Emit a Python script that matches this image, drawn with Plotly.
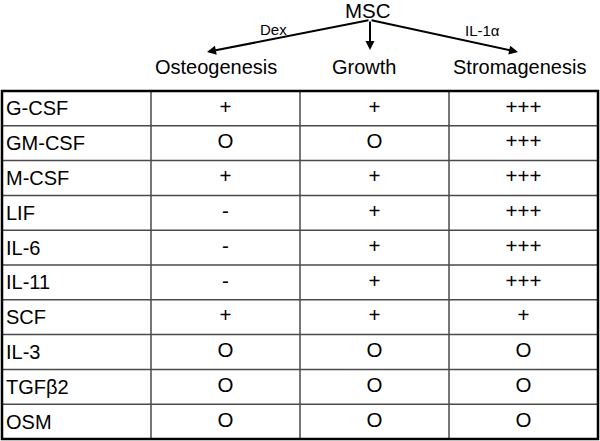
import plotly.graph_objects as go

# ---- data ----
source = "MSC"
treatments = ["Dex", "", "IL-1α"]
columns = ["Osteogenesis", "Growth", "Stromagenesis"]
factors = ["G-CSF", "GM-CSF", "M-CSF", "LIF", "IL-6", "IL-11", "SCF", "IL-3", "TGFβ2", "OSM"]
osteogenesis = ["+", "O", "+", "-", "-", "-", "+", "O", "O", "O"]
growth = ["+", "O", "+", "+", "+", "+", "+", "O", "O", "O"]
stromagenesis = ["+++", "+++", "+++", "+++", "+++", "+++", "+", "O", "O", "O"]

W, H = 600, 441
# table geometry in pixels (used only to set axis ranges)
TX0, TX1 = 2, 598
TY0, TY1 = 91, 439
ncol = 1 + len(columns)
nrow = len(factors)
px_x = (TX1 - TX0) / ncol
px_y = (TY1 - TY0) / nrow

def X(px):
    return -0.5 + (px - TX0) / px_x

def Y(py):
    return -0.5 + (py - TY0) / px_y

fig = go.Figure()
FONT = "Liberation Sans, Arial, Helvetica, sans-serif"

# cell text
value_cols = [osteogenesis, growth, stromagenesis]
for j, vals in enumerate(value_cols):
    fig.add_trace(go.Scatter(
        x=[j + 1] * nrow, y=list(range(nrow)), mode="text", text=vals,
        textposition="middle center",
        textfont=dict(family=FONT, size=20.5, color="black"),
        hoverinfo="skip", showlegend=False))

for i, f in enumerate(factors):
    fig.add_annotation(x=X(4), y=i, xref="x", yref="y", text=f, showarrow=False,
                       xanchor="left", yanchor="middle",
                       font=dict(family=FONT, size=20, color="black"))

# grid lines
for i in range(1, nrow):
    fig.add_shape(type="line", x0=-0.5, x1=ncol - 0.5, y0=i - 0.5, y1=i - 0.5,
                  xref="x", yref="y", line=dict(color="#4a4a4a", width=1.5))
for j in range(1, ncol):
    fig.add_shape(type="line", x0=j - 0.5, x1=j - 0.5, y0=-0.5, y1=nrow - 0.5,
                  xref="x", yref="y", line=dict(color="#4a4a4a", width=1.5))
fig.add_shape(type="rect", x0=-0.5, x1=ncol - 0.5, y0=-0.5, y1=nrow - 0.5,
              xref="x", yref="y", line=dict(color="black", width=2.5))

# header
fig.add_annotation(x=X(368), y=Y(10), text=source, showarrow=False,
                   font=dict(family=FONT, size=20.5, color="black"))
apex = (X(370), Y(20))
tips = [(X(207), Y(52)), (X(370), Y(50)), (X(518), Y(52))]
for tx, ty in tips:
    fig.add_annotation(x=tx, y=ty, ax=apex[0], ay=apex[1], xref="x", yref="y",
                       axref="x", ayref="y", text="", showarrow=True,
                       arrowhead=2, arrowsize=0.9, arrowwidth=2, arrowcolor="black")
label_px = [(273, 29), None, (482, 30)]
for t, pos in zip(treatments, label_px):
    if t and pos:
        fig.add_annotation(x=X(pos[0]), y=Y(pos[1]), text=t, showarrow=False,
                           font=dict(family=FONT, size=15, color="black"))
col_px = [216, 364, 519]
for c, cx in zip(columns, col_px):
    fig.add_annotation(x=X(cx), y=Y(67), text=c, showarrow=False,
                       font=dict(family=FONT, size=20, color="black"))

fig.update_xaxes(range=[X(0), X(W)], visible=False, fixedrange=True)
fig.update_yaxes(range=[Y(H), Y(0)], visible=False, fixedrange=True)
fig.update_layout(width=W, height=H, margin=dict(l=0, r=0, t=0, b=0),
                  paper_bgcolor="white", plot_bgcolor="white", showlegend=False)

fig.write_html("out.html", config={"displayModeBar": False},
               post_script="document.body.style.margin='0';document.body.style.padding='0';")
